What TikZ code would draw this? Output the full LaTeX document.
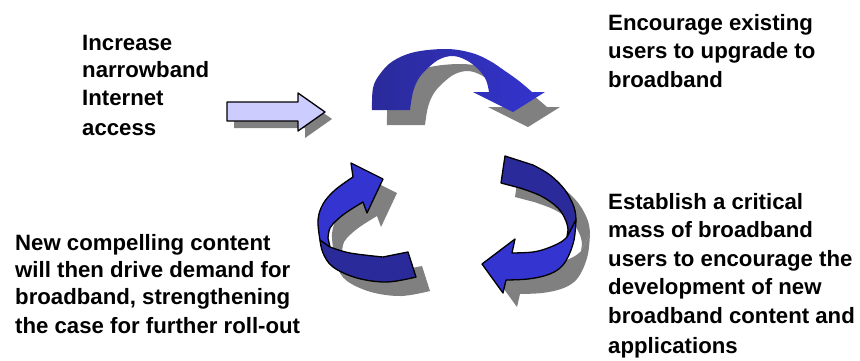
\documentclass[tikz,border=0pt]{standalone}
\usepackage{fontspec}
\setmainfont{Liberation Sans}
\definecolor{shadowgray}{HTML}{808080}
\definecolor{arrowdark}{HTML}{2A2A9A}
\definecolor{arrowbright}{HTML}{3434D0}
\definecolor{lavender}{HTML}{CCCCFF}
\tikzset{
  txt/.style={inner sep=0pt, anchor=base west, font=\fontsize{22.2}{28}\selectfont\bfseries},
  outl/.style={draw=black, line width=1.3pt, line join=round},
  shadowfill/.style={fill=shadowgray}
}
\def\straightArrow{(227,102) -- (298,102) -- (298,93) -- (325,112) -- (298,131) -- (298,121) -- (227,121) -- cycle}
\def\topArrow{plot[smooth, tension=0.6] coordinates {(372,110) (373,88) (380,74) (393,61) (415,52) (447,49) (472,53) (490,61) (505,71) (519,81) (532,92)} -- (545,92) -- (513,112) -- (473,92) -- plot[smooth, tension=0.6] coordinates {(489,92) (486,80) (478,69) (466,60) (453,56) (440,59) (429,67) (419,78) (413,92) (410,110)} -- cycle}
\def\rightUpper{(505,156) -- plot[smooth, tension=0.6] coordinates {(533,165) (550,175) (565,190) (574,207) (576,220)} -- (567,237) -- plot[smooth, tension=0.6] coordinates {(568,230) (566,221) (558,208) (541,196) (520,188)} -- (501,183) -- cycle}
\def\rightLower{plot[smooth, tension=0.6] coordinates {(576,220) (574,240) (568,257) (560,268) (547,275) (528,279) (506,280)} -- (503,293) -- (482,264) -- (515,239) -- plot[smooth, tension=0.6] coordinates {(512,253) (533,252) (548,248) (561,242) (567,237)} -- cycle}
\def\leftUpper{(383,179) -- (351,163) -- plot[smooth, tension=0.6] coordinates {(353,177) (335,190) (323,204) (318,220) (320,240)} -- (330,247) -- plot[smooth, tension=0.6] coordinates {(328,238) (330,228) (337,220) (347,212) (363,202)} -- (367,213) -- cycle}
\def\leftLower{plot[smooth, tension=0.6] coordinates {(320,240) (323,253) (333,267) (357,278) (387,282) (416,277)} -- (408,252) -- plot[smooth, tension=0.6] coordinates {(383,257) (350,253) (330,247)} -- cycle}
\begin{document}
\begin{tikzpicture}[x=1pt, y=-1pt]
\useasboundingbox[fill=white] (0,0) rectangle (860,360);
% shadows
\begin{scope}[shift={(7,7)}]
  \fill[shadowfill] \straightArrow;
\end{scope}
\begin{scope}[shift={(15,15)}]
  \fill[shadowfill] \topArrow;
\end{scope}
\begin{scope}[shift={(14,14)}]
  \fill[shadowfill] \rightUpper;
  \fill[shadowfill] \rightLower;
  \fill[shadowfill] \leftUpper;
  \fill[shadowfill] \leftLower;
\end{scope}
% arrows
\fill[lavender, outl] \straightArrow;
\shade[left color=arrowdark, right color=arrowbright] \topArrow;
\fill[arrowdark, outl] \rightUpper;
\fill[arrowbright, outl] \rightLower;
\fill[arrowdark, outl] \leftLower;
\fill[arrowbright, outl] \leftUpper;
% texts
\node[txt] (increase) at (82,50) {\vtop{\baselineskip=27.5pt\hbox{Increase}\hbox{narrowband}\hbox{Internet}\kern2.5pt\hbox{access}}};
\node[txt] (encourage) at (608,30) {\vtop{\baselineskip=28.5pt\hbox{Encourage existing}\hbox{users to upgrade to}\hbox{broadband}}};
\node[txt] (establish) at (608,209) {\vtop{\baselineskip=28.5pt\hbox{Establish a critical}\hbox{mass of broadband}\hbox{users to encourage the}\hbox{development of new}\hbox{broadband content and}\kern1.5pt\hbox{applications}}};
\node[txt] (compelling) at (15,250) {\vtop{\baselineskip=27.2pt\hbox{New compelling content}\hbox{will then drive demand for}\hbox{broadband, strengthening}\kern2pt\hbox{the case for further roll-out}}};
\end{tikzpicture}
\end{document}
